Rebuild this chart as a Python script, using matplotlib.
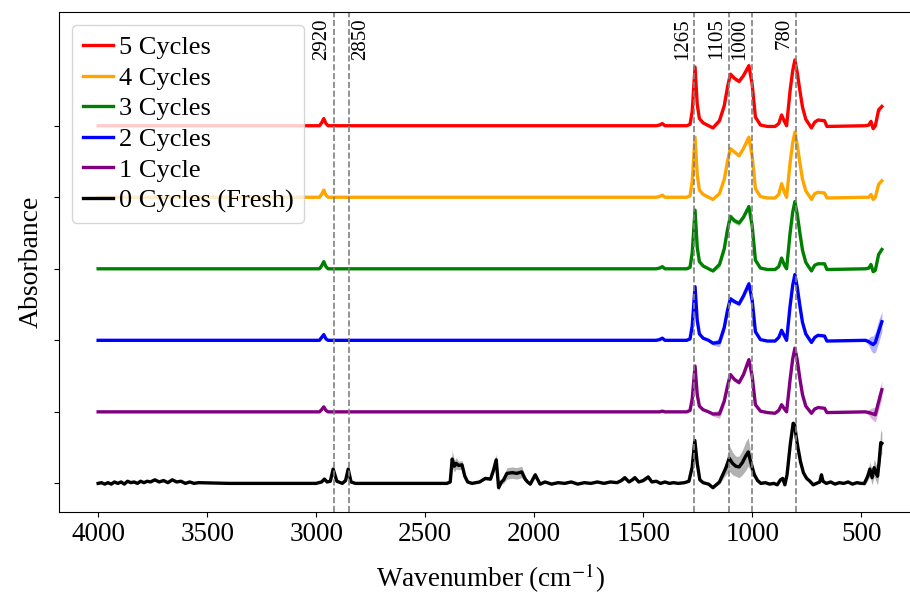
import matplotlib.pyplot as plt

plt.rcParams['font.family'] = ['Liberation Serif', 'DejaVu Serif']
plt.rcParams['mathtext.fontset'] = 'stix'

# wavenumber grid shared by the cycled samples (cm^-1)
wn_cycled = [4000, 3000, 2985, 2975, 2965, 2955, 2945,
             1440, 1425, 1412, 1400,
             1300, 1285, 1275, 1262, 1252, 1242, 1225,
             1200, 1180, 1150, 1128, 1113, 1100, 1080, 1060, 1040, 1015, 1000, 985, 962,
             930, 895, 878, 865, 852, 842,
             826, 814, 804, 793, 781, 769, 754,
             728, 713, 698, 668, 657,
             480, 465, 455, 445, 435, 420, 405]

cycles_5 = [0, 0, 0, 0.04, 0.10, 0.03, 0,
            0, 0.01, 0.03, 0,
            0, 0.02, 0.20, 0.82, 0.30, 0.10, 0.04,
            0.0, -0.03, 0.07, 0.28, 0.54, 0.72, 0.66, 0.62, 0.70, 0.84, 0.58, 0.12, 0.01,
            -0.01, -0.01, 0.03, 0.15, 0.06, 0.0,
            0.49, 0.77, 0.92, 0.74, 0.49, 0.26, 0.09,
            -0.03, 0.05, 0.08, 0.07, -0.01,
            0, 0.01, 0.06, -0.04, 0.0, 0.22, 0.27]
cycles_5_std = [0.005, 0.005, 0.005, 0.01, 0.01, 0.01, 0.005,
                0.005, 0.005, 0.01, 0.005,
                0.005, 0.01, 0.03, 0.05, 0.03, 0.01, 0.01,
                0.01, 0.02, 0.04, 0.05, 0.04, 0.04, 0.03, 0.03, 0.03, 0.04, 0.03, 0.02, 0.01,
                0.005, 0.005, 0.01, 0.02, 0.01, 0.01,
                0.03, 0.03, 0.03, 0.03, 0.03, 0.02, 0.01,
                0.01, 0.01, 0.01, 0.01, 0.005,
                0.005, 0.01, 0.04, 0.03, 0.02, 0.05, 0.03]

cycles_4 = [0, 0, 0, 0.04, 0.10, 0.03, 0,
            0, 0.01, 0.03, 0,
            0, 0.02, 0.22, 0.84, 0.32, 0.10, 0.04,
            0.0, -0.03, 0.05, 0.25, 0.50, 0.68, 0.63, 0.58, 0.68, 0.84, 0.58, 0.12, 0.01,
            -0.01, -0.01, 0.04, 0.19, 0.07, 0.0,
            0.48, 0.76, 0.91, 0.73, 0.48, 0.25, 0.09,
            -0.03, 0.05, 0.07, 0.06, -0.01,
            0, 0.0, 0.04, -0.03, 0.0, 0.18, 0.23]
cycles_4_std = [0.005, 0.005, 0.005, 0.005, 0.01, 0.005, 0.005,
                0.005, 0.005, 0.005, 0.005,
                0.005, 0.005, 0.01, 0.02, 0.01, 0.005, 0.005,
                0.005, 0.01, 0.01, 0.015, 0.02, 0.02, 0.015, 0.015, 0.015, 0.02, 0.015, 0.01, 0.005,
                0.005, 0.005, 0.005, 0.01, 0.005, 0.005,
                0.01, 0.015, 0.015, 0.015, 0.01, 0.01, 0.005,
                0.005, 0.005, 0.005, 0.005, 0.005,
                0.005, 0.005, 0.01, 0.01, 0.01, 0.015, 0.01]

cycles_3 = [0, 0, 0, 0.04, 0.10, 0.03, 0,
            0, 0.01, 0.03, 0,
            0, 0.02, 0.22, 0.82, 0.30, 0.10, 0.04,
            0.0, -0.03, 0.06, 0.28, 0.55, 0.73, 0.67, 0.64, 0.72, 0.87, 0.60, 0.12, 0.01,
            -0.01, -0.01, 0.03, 0.15, 0.05, 0.0,
            0.50, 0.79, 0.94, 0.76, 0.50, 0.26, 0.09,
            -0.03, 0.05, 0.07, 0.07, -0.01,
            0, 0.01, 0.06, -0.04, -0.02, 0.20, 0.27]
cycles_3_std = [0.005, 0.005, 0.005, 0.01, 0.01, 0.01, 0.005,
                0.005, 0.005, 0.01, 0.005,
                0.005, 0.01, 0.02, 0.03, 0.02, 0.01, 0.01,
                0.01, 0.02, 0.05, 0.06, 0.05, 0.05, 0.04, 0.04, 0.03, 0.03, 0.02, 0.01, 0.01,
                0.005, 0.005, 0.01, 0.02, 0.01, 0.01,
                0.02, 0.02, 0.02, 0.02, 0.02, 0.02, 0.01,
                0.01, 0.01, 0.01, 0.01, 0.005,
                0.005, 0.01, 0.02, 0.02, 0.02, 0.02, 0.02]

cycles_2 = [0, 0, 0, 0.04, 0.08, 0.02, 0,
            0, 0.01, 0.03, 0,
            0, 0.02, 0.20, 0.75, 0.28, 0.09, 0.03,
            0.0, -0.04, -0.03, 0.18, 0.42, 0.58, 0.54, 0.51, 0.62, 0.79, 0.56, 0.12, 0.01,
            -0.01, -0.01, 0.04, 0.14, 0.06, 0.0,
            0.48, 0.77, 0.92, 0.74, 0.48, 0.25, 0.09,
            -0.03, 0.04, 0.07, 0.06, -0.01,
            0, -0.02, -0.04, -0.06, -0.03, 0.12, 0.26]
cycles_2_std = [0.005, 0.005, 0.005, 0.01, 0.01, 0.01, 0.005,
                0.005, 0.005, 0.01, 0.005,
                0.005, 0.01, 0.02, 0.03, 0.02, 0.01, 0.01,
                0.01, 0.03, 0.06, 0.07, 0.05, 0.04, 0.03, 0.03, 0.04, 0.05, 0.04, 0.02, 0.01,
                0.005, 0.005, 0.01, 0.02, 0.01, 0.01,
                0.03, 0.03, 0.03, 0.03, 0.03, 0.02, 0.01,
                0.01, 0.01, 0.01, 0.01, 0.005,
                0.01, 0.05, 0.10, 0.12, 0.14, 0.16, 0.14]

cycles_1 = [0, 0, 0, 0.03, 0.07, 0.02, 0,
            0, 0.0, 0.01, 0,
            0, 0.02, 0.18, 0.64, 0.24, 0.08, 0.03,
            0.0, -0.03, -0.03, 0.15, 0.36, 0.52, 0.45, 0.41, 0.52, 0.73, 0.50, 0.10, 0.01,
            -0.01, -0.02, 0.02, 0.10, 0.04, 0.0,
            0.45, 0.74, 0.89, 0.72, 0.46, 0.24, 0.08,
            -0.02, 0.04, 0.06, 0.05, -0.01,
            0, -0.01, -0.02, -0.03, -0.04, 0.14, 0.31]
cycles_1_std = [0.005, 0.005, 0.005, 0.01, 0.01, 0.01, 0.005,
                0.005, 0.005, 0.01, 0.005,
                0.005, 0.01, 0.02, 0.03, 0.02, 0.01, 0.01,
                0.01, 0.03, 0.06, 0.06, 0.04, 0.04, 0.03, 0.03, 0.03, 0.04, 0.03, 0.02, 0.01,
                0.005, 0.005, 0.01, 0.02, 0.01, 0.01,
                0.03, 0.03, 0.03, 0.03, 0.03, 0.02, 0.01,
                0.01, 0.01, 0.01, 0.01, 0.005,
                0.01, 0.04, 0.07, 0.09, 0.10, 0.12, 0.12]

# fresh sample has its own (noisier) trace
wn_fresh = [4000, 3985, 3970, 3955, 3940, 3925, 3910, 3895, 3880, 3865, 3850, 3835, 3820,
            3805, 3790, 3775, 3760, 3740, 3720, 3700, 3680,
            3660, 3640, 3620, 3600, 3580, 3560, 3540, 3400, 3200, 3000,
            2975, 2962, 2950, 2935, 2922, 2905, 2880, 2865, 2853, 2840, 2820, 2600,
            2400, 2385, 2376, 2366, 2358, 2346, 2331, 2318, 2305, 2285, 2250, 2224, 2200,
            2186, 2174, 2163, 2150, 2140, 2125, 2100, 2080, 2057, 2041, 2030, 2018, 1995, 1973,
            1950, 1920, 1890, 1860, 1830, 1800, 1770, 1740, 1710, 1680, 1650, 1620, 1600,
            1584, 1565, 1550, 1538, 1520, 1500, 1477, 1460, 1440, 1420, 1400, 1380, 1360,
            1340, 1310, 1290, 1275, 1263, 1252, 1240, 1225, 1200, 1180, 1165, 1150, 1135,
            1120, 1105, 1090, 1075, 1060, 1045, 1030, 1018, 1005, 990, 975, 960, 940, 920,
            900, 885, 870, 860, 850, 840, 825, 812, 805, 798, 790, 778, 765, 750, 735, 720,
            705, 690, 682, 675, 660, 640, 620, 600, 580, 560, 540, 520, 500, 485, 470, 460,
            450, 440, 432, 425, 418, 410, 405]
cycles_0 = [0, 0.01, -0.01, 0.01, -0.01, 0.02, 0.0, 0.02, -0.01, 0.03, 0.01, 0.02, 0.0,
            0.03, 0.01, 0.03, 0.02, 0.05, 0.02, 0.04, 0.01,
            0.05, 0.02, 0.03, 0.0, 0.02, 0.0, 0.01, 0.0, 0.0, 0.0,
            0.02, 0.06, 0.02, 0.03, 0.20, 0.03, 0.0, 0.04, 0.20, 0.02, 0.0, 0.0,
            0.0, 0.02, 0.34, 0.24, 0.28, 0.25, 0.26, 0.10, 0.02, 0.0, 0.02, 0.07, 0.06,
            0.19, 0.33, -0.06, 0.02, 0.05, 0.14, 0.15, 0.14, 0.16, 0.06, 0.02, -0.01, 0.12, -0.01,
            0.02, -0.01, 0.01, 0.0, 0.02, -0.01, 0.01, 0.0, 0.02, 0.0, 0.02, 0.01, 0.04,
            0.08, 0.02, 0.05, 0.08, 0.02, 0.04, 0.09, 0.02, 0.03, 0.0, 0.02, 0.0, 0.01,
            0.0, 0.01, 0.03, 0.23, 0.60, 0.28, 0.05, 0.01, -0.01, -0.06, -0.02, 0.02, 0.12,
            0.22, 0.35, 0.28, 0.24, 0.23, 0.29, 0.38, 0.44, 0.28, 0.12, 0.04, 0.0, 0.01, -0.01,
            0.0, -0.02, 0.05, 0.07, -0.02, 0.12, 0.55, 0.84, 0.82, 0.65, 0.50, 0.30, 0.15, 0.07, 0.03, -0.02,
            0.0, 0.02, 0.12, 0.03, 0.0, 0.02, -0.01, 0.01, 0.0, 0.02, -0.01, 0.01, 0.0, 0.0, 0.10, 0.20,
            0.08, 0.22, 0.15, 0.10, 0.29, 0.57, 0.56]
cycles_0_std = [0.01, 0.01, 0.01, 0.01, 0.01, 0.01, 0.01, 0.01, 0.01, 0.01, 0.01, 0.01, 0.01,
                0.01, 0.01, 0.01, 0.01, 0.02, 0.01, 0.02, 0.01,
                0.02, 0.01, 0.01, 0.01, 0.01, 0.01, 0.01, 0.005, 0.005, 0.005,
                0.01, 0.02, 0.01, 0.01, 0.04, 0.01, 0.01, 0.01, 0.04, 0.01, 0.005, 0.005,
                0.005, 0.02, 0.12, 0.08, 0.08, 0.06, 0.06, 0.04, 0.02, 0.01, 0.01, 0.02, 0.02,
                0.05, 0.08, 0.04, 0.03, 0.05, 0.08, 0.08, 0.08, 0.08, 0.04, 0.02, 0.02, 0.04, 0.02,
                0.01, 0.01, 0.01, 0.01, 0.01, 0.01, 0.01, 0.01, 0.01, 0.01, 0.01, 0.01, 0.02,
                0.03, 0.01, 0.02, 0.03, 0.01, 0.02, 0.03, 0.01, 0.01, 0.01, 0.01, 0.01, 0.01,
                0.01, 0.01, 0.01, 0.03, 0.05, 0.03, 0.01, 0.01, 0.01, 0.02, 0.02, 0.03, 0.06,
                0.10, 0.18, 0.16, 0.14, 0.15, 0.17, 0.20, 0.20, 0.12, 0.05, 0.02, 0.01, 0.01, 0.01,
                0.01, 0.01, 0.02, 0.02, 0.01, 0.02, 0.03, 0.04, 0.04, 0.03, 0.03, 0.02, 0.02, 0.01, 0.01, 0.01,
                0.01, 0.01, 0.02, 0.01, 0.01, 0.01, 0.01, 0.01, 0.01, 0.01, 0.01, 0.01, 0.01, 0.03, 0.06, 0.10,
                0.10, 0.12, 0.12, 0.12, 0.15, 0.18, 0.15]

labels = ['5 Cycles', '4 Cycles', '3 Cycles', '2 Cycles', '1 Cycle', '0 Cycles (Fresh)']
colors = ['red', 'orange', 'green', 'blue', 'purple', 'black']
offsets = [5, 4, 3, 2, 1, 0]

peak_positions = [2920, 2850, 1265, 1105, 1000, 800]
peak_labels = ['2920', '2850', '1265', '1105', '1000', '780']
label_sides = ['left', 'right', 'left', 'left', 'left', 'left']

series = [
    (wn_cycled, cycles_5, cycles_5_std),
    (wn_cycled, cycles_4, cycles_4_std),
    (wn_cycled, cycles_3, cycles_3_std),
    (wn_cycled, cycles_2, cycles_2_std),
    (wn_cycled, cycles_1, cycles_1_std),
    (wn_fresh, cycles_0, cycles_0_std),
]

fig = plt.figure(figsize=(9.1, 5.94), dpi=100)
ax = fig.add_axes([58.9 / 910, 82 / 594, 863.3 / 910, 500 / 594])

for (wn, values, std), label, color, off in zip(series, labels, colors, offsets):
    y = [v + off for v in values]
    lo = [v - s for v, s in zip(y, std)]
    hi = [v + s for v, s in zip(y, std)]
    ax.fill_between(wn, lo, hi, color=color, alpha=0.3, linewidth=0)
    ax.plot(wn, y, color=color, linewidth=2.4, label=label)

# peak markers, text on the left or right of each line
for pos, text, side in zip(peak_positions, peak_labels, label_sides):
    ax.axvline(pos, color='gray', linestyle='--', linewidth=1.2)
    if side == 'left':
        ax.text(pos + 12, 0.988, text, transform=ax.get_xaxis_transform(), rotation=90,
                ha='right', va='top', fontsize=15)
    else:
        ax.text(pos - 12, 0.988, text, transform=ax.get_xaxis_transform(), rotation=90,
                ha='left', va='top', fontsize=15)

ax.set_xlim(4180, 220)
ax.set_ylim(-0.40, 6.59)
ax.set_xticks([4000, 3500, 3000, 2500, 2000, 1500, 1000, 500])
ax.set_yticks(offsets)
ax.set_yticklabels([])
ax.tick_params(axis='x', labelsize=19.5)
ax.set_xlabel('Wavenumber (cm$^{-1}$)', fontsize=19.5, labelpad=11)
ax.set_ylabel('Absorbance', fontsize=20)
ax.legend(loc='upper left', fontsize=19, labelspacing=0.27, handlelength=1.15,
          handletextpad=0.22)

plt.savefig('out.png', dpi=100)
plt.close()
